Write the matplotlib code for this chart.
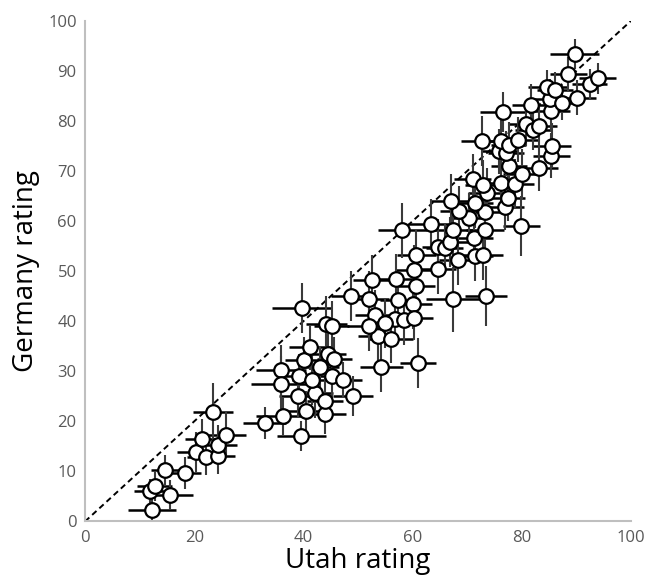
import matplotlib.pyplot as plt

# mean ratings per item (Utah on x, Germany on y) with their error half-widths
utah = [
    12.2, 11.9, 12.8, 15.5, 14.6, 18.3, 20.4, 22.1, 24.4, 24.3, 21.5, 25.9, 23.5,
    32.9, 36.3, 39.6, 40.5, 44.0, 39.0, 42.2, 43.9, 49.1, 35.9, 35.9, 39.2, 41.5,
    45.3, 47.3, 40.2, 41.2, 44.5, 45.7, 43.0, 39.8, 44.2, 45.2, 53.7, 56.1, 54.3,
    61.0, 48.8, 52.1, 57.3, 60.0, 67.4, 73.5, 53.1, 56.7, 58.5, 60.2, 52.0, 54.9,
    52.6, 57.0, 60.7, 60.2, 64.6, 60.7, 68.3, 71.5, 72.9, 64.7, 65.9, 66.9, 71.3,
    58.1, 63.3, 67.4, 73.3, 79.9, 70.4, 68.5, 73.3, 67.1, 71.5, 73.6, 77.0, 77.4,
    71.0, 72.9, 76.2, 78.8, 80.0, 77.7, 83.2, 85.4, 75.9, 77.1, 72.7, 76.2, 77.6,
    79.4, 85.5, 80.8, 82.0, 83.2, 76.6, 81.7, 85.4, 85.1, 87.4, 90.2, 84.7, 86.1,
    88.5, 92.5, 93.9, 89.7,
]
germany = [
    2.3, 6.0, 7.0, 5.3, 10.3, 9.6, 13.8, 12.8, 13.0, 15.3, 16.4, 17.3, 21.8,
    19.6, 21.1, 17.1, 22.0, 21.5, 25.1, 25.6, 24.1, 25.1, 30.2, 27.5, 29.0, 28.3,
    29.1, 28.3, 32.3, 34.8, 33.5, 32.4, 30.8, 42.6, 39.5, 39.0, 37.0, 36.5, 30.8,
    31.6, 45.0, 44.5, 44.2, 43.5, 44.4, 45.1, 41.3, 40.4, 40.3, 40.7, 39.1, 39.6,
    48.3, 48.4, 47.1, 50.2, 50.4, 53.2, 52.3, 53.1, 53.3, 54.9, 54.6, 55.9, 56.6,
    58.2, 59.5, 58.3, 58.2, 59.0, 60.6, 62.0, 61.8, 64.0, 63.6, 65.6, 62.8, 64.6,
    68.4, 67.3, 67.6, 67.4, 69.4, 71.0, 70.6, 73.1, 74.0, 73.6, 76.1, 76.0, 75.3,
    76.3, 75.1, 79.5, 78.3, 79.0, 81.8, 83.3, 82.0, 84.4, 83.7, 84.7, 86.7, 86.2,
    89.3, 87.3, 88.5, 93.3,
]
utah_err = [
    4.4, 3.0, 3.2, 4.3, 2.6, 3.0, 3.5, 3.4, 3.0, 3.5, 3.2, 3.6, 3.7,
    4.0, 5.0, 4.5, 4.0, 3.8, 3.5, 3.2, 3.3, 3.6, 4.5, 5.5, 3.8, 3.5,
    3.2, 3.4, 3.5, 3.8, 3.4, 3.2, 3.5, 5.5, 3.8, 3.2, 3.6, 4.0, 4.0,
    3.3, 3.7, 3.5, 3.3, 3.5, 5.0, 3.8, 3.6, 3.4, 3.2, 3.5, 4.0, 3.6,
    3.5, 3.4, 3.5, 3.3, 3.4, 3.6, 3.5, 3.2, 3.6, 3.0, 3.4, 3.2, 3.5,
    4.5, 4.2, 3.6, 3.5, 3.4, 3.4, 3.5, 3.3, 3.8, 3.2, 3.5, 3.4, 3.2,
    3.4, 3.3, 3.2, 3.5, 3.4, 3.3, 3.5, 3.4, 3.2, 3.3, 3.8, 3.3, 3.2,
    3.5, 3.6, 3.4, 3.3, 3.2, 4.2, 3.5, 3.4, 3.3, 3.2, 3.5, 3.6, 3.3,
    3.4, 3.2, 3.4, 4.5,
]
germany_err = [
    3.0, 2.5, 3.0, 3.0, 3.0, 3.2, 4.0, 3.5, 3.6, 4.0, 4.0, 4.6, 5.8,
    3.2, 3.8, 3.0, 4.0, 4.0, 4.5, 5.0, 4.5, 4.0, 5.0, 5.5, 4.5, 5.0,
    4.5, 3.5, 4.6, 4.5, 5.0, 4.5, 4.0, 5.0, 5.5, 5.0, 5.0, 4.8, 5.0,
    5.0, 5.0, 5.5, 5.0, 5.0, 6.5, 6.0, 5.0, 5.0, 5.0, 4.5, 5.0, 5.0,
    5.0, 5.0, 5.5, 5.0, 5.0, 5.0, 5.0, 5.0, 5.0, 5.5, 5.0, 5.0, 5.0,
    5.5, 5.0, 5.0, 5.0, 6.0, 5.0, 5.0, 5.0, 5.5, 5.0, 5.0, 4.5, 4.5,
    5.0, 5.0, 5.0, 5.0, 5.0, 4.5, 4.5, 4.5, 4.5, 4.5, 5.0, 4.5, 4.5,
    4.5, 4.5, 4.5, 4.0, 4.0, 4.0, 4.0, 4.0, 4.0, 3.5, 3.5, 3.5, 3.5,
    3.5, 3.0, 3.0, 3.0,
]

x_ticks = [0, 20, 40, 60, 80, 100]
y_ticks = list(range(0, 101, 10))

fig = plt.figure(figsize=(6.46, 5.78), dpi=100)
ax = fig.add_axes([0.1316, 0.0978, 0.845, 0.866])

# identity line
ax.plot([0, 100], [0, 100], color="black", lw=1.4, ls=(0, (3, 2)), zorder=1)

# horizontal bars black, vertical bars a touch lighter
ax.errorbar(utah, germany, xerr=utah_err, fmt="none", ecolor="black",
            elinewidth=1.8, capsize=0, zorder=2)
ax.errorbar(utah, germany, yerr=germany_err, fmt="none", ecolor="#3a3a3a",
            elinewidth=1.5, capsize=0, zorder=2)
ax.plot(utah, germany, "o", ms=10.5, mfc="white", mec="black", mew=1.6,
        ls="none", zorder=3)

ax.set_xlim(0, 100)
ax.set_ylim(0, 100)
ax.set_xticks(x_ticks)
ax.set_yticks(y_ticks)
ax.tick_params(length=0, labelsize=12, labelcolor="#595959", pad=6)
for lab in ax.get_xticklabels() + ax.get_yticklabels():
    lab.set_family("Open Sans")

for side in ("top", "right"):
    ax.spines[side].set_visible(False)
for side in ("left", "bottom"):
    ax.spines[side].set_color("#bfbfbf")
    ax.spines[side].set_linewidth(1.5)

ax.set_xlabel("Utah rating", fontsize=20, family="Open Sans", labelpad=1)
ax.set_ylabel("Germany rating", fontsize=20, family="Open Sans", labelpad=6)

fig.savefig("out.png", dpi=100)
